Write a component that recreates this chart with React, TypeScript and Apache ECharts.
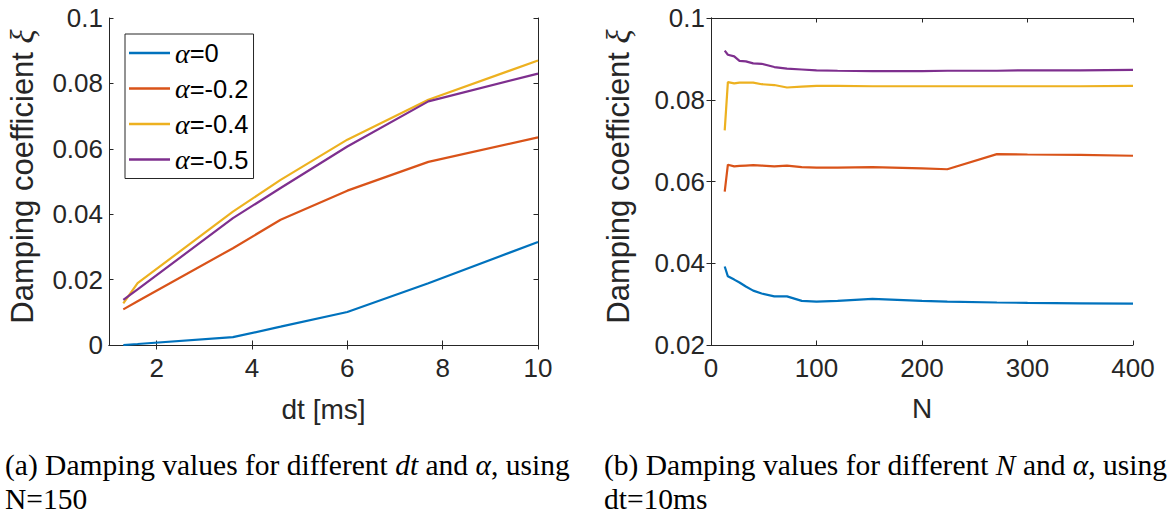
import React, { useEffect, useRef } from "react";
import * as echarts from "echarts";

// ---- Data (a): damping vs dt, N=150 ----
const dtValues = [1.3, 1.6, 3.6, 4.6, 6, 7.7, 10];
const dtAlpha0 = [0.0, 0.0003, 0.0024, 0.0056, 0.0101, 0.0189, 0.0315];
const dtAlphaM02 = [0.0109, 0.0134, 0.0296, 0.0383, 0.0472, 0.056, 0.0635];
const dtAlphaM04 = [0.0127, 0.0189, 0.0408, 0.0505, 0.0628, 0.075, 0.087];
const dtAlphaM05 = [0.0138, 0.017, 0.0388, 0.048, 0.0607, 0.0745, 0.083];

// ---- Data (b): damping vs N, dt=10ms ----
const nValues = [13, 16, 22, 27, 33, 40, 48, 60, 72, 86, 100, 120, 153, 200, 224, 271, 300, 350, 400];
const nAlpha0 = [0.0392, 0.0368, 0.036, 0.0353, 0.0343, 0.0333, 0.0326, 0.0319, 0.0319, 0.0308, 0.0306, 0.0308, 0.0313, 0.0308, 0.0306, 0.0304, 0.0303, 0.0302, 0.0301];
const nAlphaM02 = [0.0575, 0.0641, 0.0637, 0.0638, 0.0639, 0.064, 0.0639, 0.0637, 0.0639, 0.0635, 0.0634, 0.0634, 0.0635, 0.0632, 0.063, 0.0667, 0.0666, 0.0665, 0.0663];
const nAlphaM04 = [0.0725, 0.0843, 0.084, 0.0842, 0.0842, 0.0842, 0.0838, 0.0836, 0.083, 0.0832, 0.0834, 0.0834, 0.0833, 0.0833, 0.0833, 0.0833, 0.0833, 0.0833, 0.0834];
const nAlphaM05 = [0.092, 0.091, 0.0906, 0.0895, 0.0894, 0.0889, 0.0888, 0.088, 0.0876, 0.0874, 0.0872, 0.0871, 0.087, 0.087, 0.0871, 0.0871, 0.0872, 0.0872, 0.0873];

const seriesNames = ["α=0", "α=-0.2", "α=-0.4", "α=-0.5"];
const seriesColors = ["#0072BD", "#D95319", "#EDB120", "#7E2F8E"];

const dtTicks = [2, 4, 6, 8, 10];

const SANS = "'Liberation Sans', Arial, Helvetica, sans-serif";
const SERIF = "'Liberation Serif', 'DejaVu Serif', serif";
const AX = "#262626";

export default function App() {
  const ref = useRef<HTMLDivElement>(null);

  useEffect(() => {
    if (!ref.current) return;
    const chart = echarts.init(ref.current, undefined, { renderer: "svg" });

    const tickFont = { fontFamily: SANS, fontSize: 26, color: AX };
    const yName = "{t|Damping coefficient }{g|ξ}";
    const nameStyle = {
      color: AX,
      padding: [0, 0, 0, 10],
      rich: {
        t: { fontFamily: SANS, fontSize: 31, color: AX },
        g: { fontFamily: SERIF, fontStyle: "italic", fontSize: 33, color: AX },
      },
    };
    const axisLine = { show: true, lineStyle: { color: AX, width: 1 } };

    const mkX = (gridIndex: number, min: number, max: number, opts: any) => ({
      type: "value",
      gridIndex,
      min,
      max,
      splitLine: { show: false },
      axisLine,
      ...opts,
    });

    const leftData = [dtAlpha0, dtAlphaM02, dtAlphaM04, dtAlphaM05];
    const rightData = [nAlpha0, nAlphaM02, nAlphaM04, nAlphaM05];

    const series: any[] = [];
    leftData.forEach((arr, i) => {
      series.push({
        type: "line",
        name: seriesNames[i],
        xAxisIndex: 0,
        yAxisIndex: 0,
        data: dtValues.map((x, j) => [x, arr[j]]),
        showSymbol: false,
        symbol: "none",
        lineStyle: { color: seriesColors[i], width: 2.2 },
        itemStyle: { color: seriesColors[i] },
      });
    });
    rightData.forEach((arr, i) => {
      series.push({
        type: "line",
        name: seriesNames[i],
        xAxisIndex: 2,
        yAxisIndex: 2,
        data: nValues.map((x, j) => [x, arr[j]]),
        showSymbol: false,
        symbol: "none",
        lineStyle: { color: seriesColors[i], width: 2.2 },
        itemStyle: { color: seriesColors[i] },
      });
    });

    const captionStyle = (text: string) => ({
      text,
      fontFamily: SERIF,
      fontSize: 29.5,
      lineHeight: 34,
      fill: "#000",
      rich: {
        i: { fontFamily: SERIF, fontStyle: "italic", fontSize: 29.5, lineHeight: 34, fill: "#000" },
      },
    });

    chart.setOption({
      animation: false,
      backgroundColor: "#ffffff",
      grid: [
        { left: 109, top: 18, width: 429, height: 327, containLabel: false },
        { left: 711, top: 18, width: 422, height: 327, containLabel: false },
      ],
      legend: {
        data: seriesNames,
        orient: "vertical",
        left: 125,
        top: 34,
        icon: "rect",
        itemWidth: 41,
        itemHeight: 2.5,
        itemGap: 7.5,
        padding: [5, 5, 5, 4],
        backgroundColor: "#ffffff",
        borderColor: AX,
        borderWidth: 1,
        borderRadius: 0,
        formatter: (name: string) => `{a|α}{b|${name.slice(1)}}`,
        textStyle: {
          lineHeight: 26,
          rich: {
            a: { fontFamily: SERIF, fontStyle: "italic", fontSize: 28, color: "#000", lineHeight: 26 },
            b: { fontFamily: SANS, fontSize: 25.5, color: "#000", lineHeight: 26 },
          },
        },
      },
      xAxis: [
        mkX(0, 1, 10, {
          position: "bottom",
          name: "dt [ms]",
          nameLocation: "middle",
          nameGap: 50,
          nameTextStyle: { fontFamily: SANS, fontSize: 28, color: AX },
          axisTick: { show: true, inside: true, length: 4.5, lineStyle: { color: AX }, customValues: dtTicks },
          axisLabel: { ...tickFont, margin: 10, customValues: dtTicks },
        }),
        mkX(0, 1, 10, {
          position: "top",
          axisTick: { show: true, inside: true, length: 4.5, lineStyle: { color: AX }, customValues: dtTicks },
          axisLabel: { show: false },
        }),
        mkX(1, 0, 400, {
          position: "bottom",
          interval: 100,
          name: "N",
          nameLocation: "middle",
          nameGap: 49,
          nameTextStyle: { fontFamily: SANS, fontSize: 28, color: AX },
          axisTick: { show: true, inside: true, length: 4.5, lineStyle: { color: AX } },
          axisLabel: { ...tickFont, margin: 10 },
        }),
        mkX(1, 0, 400, {
          position: "top",
          interval: 100,
          axisTick: { show: true, inside: true, length: 4.5, lineStyle: { color: AX } },
          axisLabel: { show: false },
        }),
      ],
      yAxis: [
        mkX(0, 0, 0.1, {
          position: "left",
          interval: 0.02,
          name: yName,
          nameLocation: "middle",
          nameGap: 70,
          nameTextStyle: nameStyle,
          axisTick: { show: true, inside: true, length: 4.5, lineStyle: { color: AX } },
          axisLabel: { ...tickFont, margin: 6 },
        }),
        mkX(0, 0, 0.1, {
          position: "right",
          interval: 0.02,
          axisTick: { show: true, inside: true, length: 4.5, lineStyle: { color: AX } },
          axisLabel: { show: false },
        }),
        mkX(1, 0.02, 0.1, {
          position: "left",
          interval: 0.02,
          name: yName,
          nameLocation: "middle",
          nameGap: 76,
          nameTextStyle: nameStyle,
          axisTick: { show: true, inside: true, length: 4.5, lineStyle: { color: AX } },
          axisLabel: { ...tickFont, margin: 6 },
        }),
        mkX(1, 0.02, 0.1, {
          position: "right",
          interval: 0.02,
          axisTick: { show: true, inside: true, length: 4.5, lineStyle: { color: AX } },
          axisLabel: { show: false },
        }),
      ],
      graphic: [
        {
          type: "text",
          x: 5,
          y: 448,
          style: captionStyle("(a) Damping values for different {i|dt} and {i|α}, using\nN=150"),
        },
        {
          type: "text",
          x: 604,
          y: 448,
          style: captionStyle("(b) Damping values for different {i|N} and {i|α}, using\ndt=10ms"),
        },
      ],
      series,
    });

    return () => chart.dispose();
  }, []);

  return (
    <div
      ref={ref}
      style={{ position: "fixed", left: 0, top: 0, width: 1173, height: 516, background: "#fff" }}
    />
  );
}
